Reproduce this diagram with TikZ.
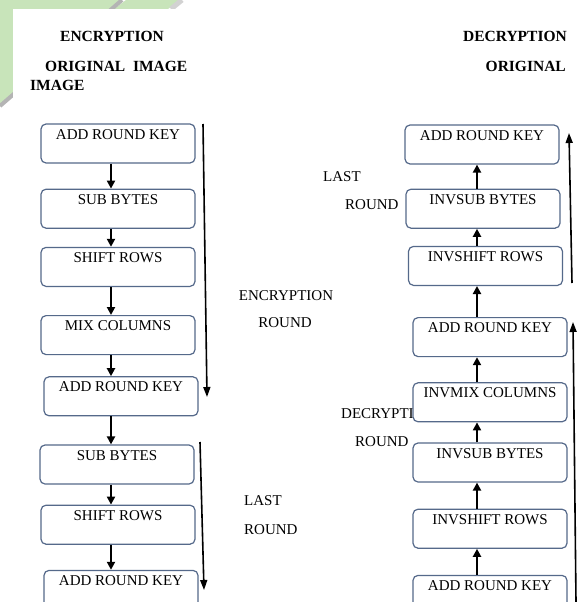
\documentclass[tikz,border=0pt]{standalone}
\usepackage{fontspec}
\setmainfont{Liberation Serif}
\usepackage{tikz}
\usetikzlibrary{positioning, arrows.meta}
\definecolor{pagegreen}{HTML}{C8E4BA}
\definecolor{pagegray}{HTML}{B4B4B4}
\definecolor{boxedge}{HTML}{55698A}
\tikzset{
  every node/.style={font=\fontsize{15}{17}\selectfont},
  stagebox/.style={
    rectangle, rounded corners=5pt, draw=boxedge, line width=1.2pt,
    fill=white, minimum width=154pt, minimum height=39pt,
    text height=11pt, text depth=20pt, inner ysep=4pt, inner xsep=2pt
  },
  heading/.style={font=\fontsize{15.5}{17}\selectfont\bfseries, inner sep=0pt},
  sidelabel/.style={font=\fontsize{15}{17}\selectfont, inner sep=0pt},
  steparrow/.style={-{Triangle[length=8pt, width=8pt]}, line width=2.3pt},
  roundarrow/.style={-{Triangle[length=10pt, width=7pt]}, line width=1.6pt}
}

\begin{document}
\begin{tikzpicture}[x=1pt, y=-1pt]
\useasboundingbox (0,0) rectangle (580,602);
% page corner
\fill[pagegreen] (0,0) -- (122,0) -- (0,106) -- cycle;
\fill[pagegreen] (126,0) -- (180,0) -- (168,9) -- (114,9) -- cycle;
\draw[pagegray, line width=4pt] (0,106) -- (122,0);
\draw[pagegray!60, line width=5pt] (182,0) -- (171,9);
\fill[white] (13,9) rectangle (580,602);

% titles and round labels
\node[heading] (enctitle) at (112,36) {ENCRYPTION};
\node[heading, anchor=west] (encorig) at (45,66) {ORIGINAL\ \ IMAGE};
\node[heading, anchor=west] (encimg) at (30,85) {IMAGE};
\node[heading, anchor=east] (dectitle) at (567,36) {DECRYPTION};
\node[heading, anchor=east] (decorig) at (566,66) {ORIGINAL};
\node[sidelabel] (encround1) at (286,296) {ENCRYPTION};
\node[sidelabel] (encround2) at (285,323) {ROUND};
\node[sidelabel, anchor=west] (enclast1) at (244,501) {LAST};
\node[sidelabel, anchor=west] (enclast2) at (244,530) {ROUND};
\node[sidelabel, anchor=west] (declast1) at (323,177) {LAST};
\node[sidelabel, anchor=west] (declast2) at (345,205) {ROUND};
\node[sidelabel, anchor=west] (decround1) at (341,414) {DECRYPTION};
\node[sidelabel, anchor=west] (decround2) at (355,442) {ROUND};

% encryption column
\node[stagebox] (eark1) at (118,143.5) {ADD ROUND KEY};
\node[stagebox, below=25pt of eark1] (esub1) {SUB BYTES};
\node[stagebox, below=18pt of esub1] (eshift1) {SHIFT ROWS};
\node[stagebox, below=28pt of eshift1] (emix) {MIX COLUMNS};
\node[stagebox, below=21pt of emix, xshift=3pt] (eark2) {ADD ROUND KEY};
\node[stagebox, below=28pt of eark2, xshift=-4pt] (esub2) {SUB BYTES};
\node[stagebox, below=20pt of esub2, xshift=1pt] (eshift2) {SHIFT ROWS};
\node[stagebox, below=25pt of eshift2, xshift=3pt] (eark3) {ADD ROUND KEY};

% decryption column
\node[stagebox] (dark1) at (482,144.5) {ADD ROUND KEY};
\node[stagebox, below=24pt of dark1, xshift=1pt] (dsub1) {INVSUB BYTES};
\node[stagebox, below=17pt of dsub1, xshift=2.5pt] (dshift1) {INVSHIFT ROWS};
\node[stagebox, below=31pt of dshift1, xshift=4.5pt] (dark2) {ADD ROUND KEY};
\node[stagebox, below=25pt of dark2] (dmix) {INVMIX COLUMNS};
\node[stagebox, below=20pt of dmix] (dsub2) {INVSUB BYTES};
\node[stagebox, below=26pt of dsub2] (dshift2) {INVSHIFT ROWS};
\node[stagebox, below=26pt of dshift2] (dark3) {ADD ROUND KEY};

% step arrows
\coordinate (encx) at (111,0);
\coordinate (decx) at (477,0);
\foreach \a/\b in {eark1/esub1, esub1/eshift1, eshift1/emix, emix/eark2,
                   eark2/esub2, esub2/eshift2, eshift2/eark3}
  \draw[steparrow] (\a.south -| encx) -- (\b.north -| encx);
\foreach \a/\b in {dark3/dshift2, dshift2/dsub2, dsub2/dmix, dmix/dark2,
                   dark2/dshift1, dshift1/dsub1, dsub1/dark1}
  \draw[steparrow] (\a.north -| decx) -- (\b.south -| decx);

% round arrows
\coordinate (encA1) at (203,124);
\coordinate (encA2) at (207,397);
\coordinate (encB1) at (200,442);
\coordinate (encB2) at (204,590);
\coordinate (decA1) at (572,283);
\coordinate (decA2) at (569,133);
\coordinate (decB1) at (576,602);
\coordinate (decB2) at (573,322);
\draw[roundarrow] (encA1) -- (encA2);
\draw[roundarrow] (encB1) -- (encB2);
\draw[roundarrow] (decA1) -- (decA2);
\draw[roundarrow] (decB1) -- (decB2);
\end{tikzpicture}
\end{document}
